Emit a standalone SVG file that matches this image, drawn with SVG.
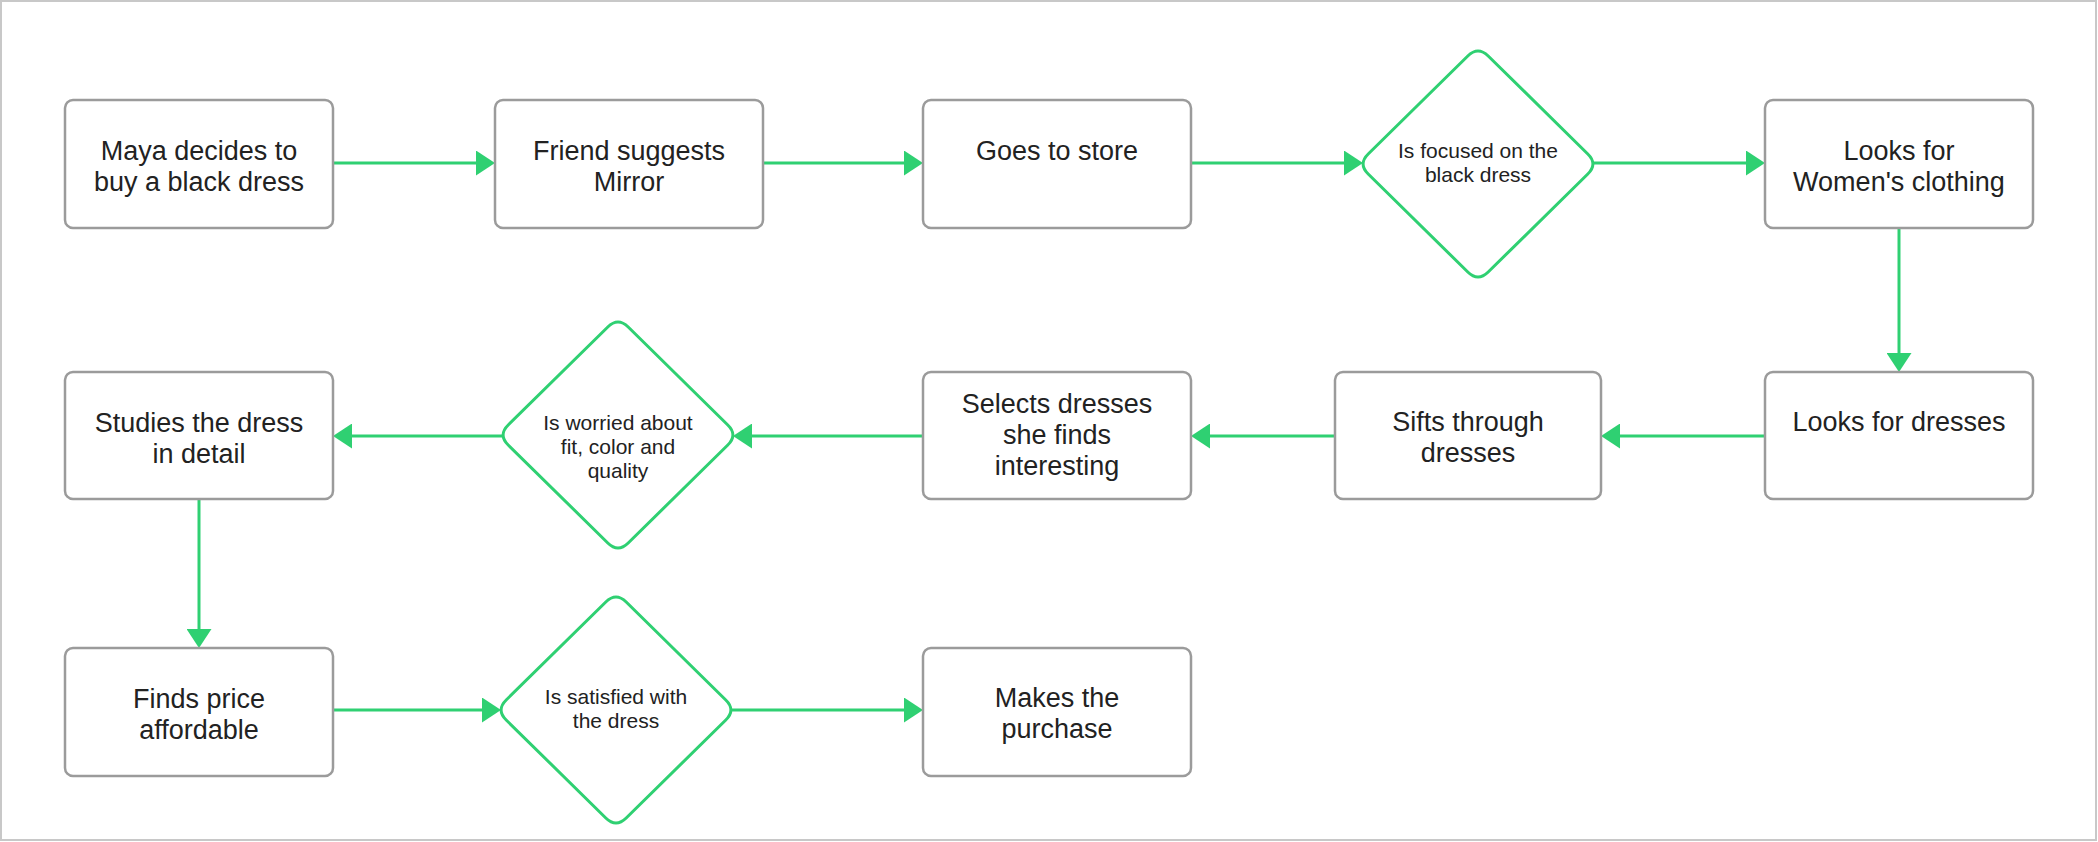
<svg xmlns="http://www.w3.org/2000/svg" xmlns:xlink="http://www.w3.org/1999/xlink" width="2098" height="842" viewBox="0 0 2098 842">
<style>
.box{fill:#ffffff;stroke:#9b9b9b;stroke-width:2.5}
.dia{fill:#ffffff;stroke:#2fd072;stroke-width:3}
.t{font-family:"Liberation Sans",Arial,Helvetica,sans-serif;font-size:27px;fill:#222222;text-anchor:middle}
.td{font-family:"Liberation Sans",Arial,Helvetica,sans-serif;font-size:21px;fill:#222222;text-anchor:middle}
.c{fill:none;stroke:#2fd072;stroke-width:3;marker-end:url(#arr)}
</style>
<defs>
<marker id="arr" markerUnits="userSpaceOnUse" markerWidth="19" markerHeight="25" refX="9" refY="12.5" orient="auto">
<path d="M0,0 L19,12.5 L0,25 Z" fill="#2fd072"/>
</marker>
<path id="diamond" d="M -10.2,-108 Q 0,-118 10.2,-108 L 109.8,-10 Q 120,0 109.8,10 L 10.2,108 Q 0,118 -10.2,108 L -109.8,10 Q -120,0 -109.8,-10 Z"/>
</defs>
<rect x="0" y="0" width="2098" height="842" fill="#ffffff"/>
<rect x="1" y="1" width="2095" height="839" fill="none" stroke="#c8c8c8" stroke-width="2"/>

<g id="connectors">
<line class="c" x1="333" y1="163" x2="485" y2="163"/>
<line class="c" x1="763" y1="163" x2="913" y2="163"/>
<line class="c" x1="1191" y1="163" x2="1353" y2="163"/>
<line class="c" x1="1593" y1="163" x2="1755" y2="163"/>
<line class="c" x1="1899" y1="228" x2="1899" y2="362"/>
<line class="c" x1="1765" y1="436" x2="1611" y2="436"/>
<line class="c" x1="1335" y1="436" x2="1201" y2="436"/>
<line class="c" x1="923" y1="436" x2="743" y2="436"/>
<line class="c" x1="503" y1="436" x2="343" y2="436"/>
<line class="c" x1="199" y1="499" x2="199" y2="638"/>
<line class="c" x1="333" y1="710" x2="491" y2="710"/>
<line class="c" x1="731" y1="710" x2="913" y2="710"/>
</g>

<g id="n1">
<rect class="box" x="65" y="100" width="268" height="128" rx="8"/>
<text class="t" x="199" y="160">Maya decides to</text>
<text class="t" x="199" y="191">buy a black dress</text>
</g>
<g id="n2">
<rect class="box" x="495" y="100" width="268" height="128" rx="8"/>
<text class="t" x="629" y="160">Friend suggests</text>
<text class="t" x="629" y="191">Mirror</text>
</g>
<g id="n3">
<rect class="box" x="923" y="100" width="268" height="128" rx="8"/>
<text class="t" x="1057" y="160">Goes to store</text>
</g>
<g id="n4">
<use xlink:href="#diamond" href="#diamond" class="dia" x="1478" y="164"/>
<text class="td" x="1478" y="158">Is focused on the</text>
<text class="td" x="1478" y="182">black dress</text>
</g>
<g id="n5">
<rect class="box" x="1765" y="100" width="268" height="128" rx="8"/>
<text class="t" x="1899" y="160">Looks for</text>
<text class="t" x="1899" y="191">Women's clothing</text>
</g>
<g id="n6">
<rect class="box" x="1765" y="372" width="268" height="127" rx="8"/>
<text class="t" x="1899" y="431">Looks for dresses</text>
</g>
<g id="n7">
<rect class="box" x="1335" y="372" width="266" height="127" rx="8"/>
<text class="t" x="1468" y="431">Sifts through</text>
<text class="t" x="1468" y="462">dresses</text>
</g>
<g id="n8">
<rect class="box" x="923" y="372" width="268" height="127" rx="8"/>
<text class="t" x="1057" y="413">Selects dresses</text>
<text class="t" x="1057" y="444">she finds</text>
<text class="t" x="1057" y="475">interesting</text>
</g>
<g id="n9">
<use xlink:href="#diamond" href="#diamond" class="dia" x="618" y="435"/>
<text class="td" x="618" y="430">Is worried about</text>
<text class="td" x="618" y="454">fit, color and</text>
<text class="td" x="618" y="478">quality</text>
</g>
<g id="n10">
<rect class="box" x="65" y="372" width="268" height="127" rx="8"/>
<text class="t" x="199" y="432">Studies the dress</text>
<text class="t" x="199" y="463">in detail</text>
</g>
<g id="n11">
<rect class="box" x="65" y="648" width="268" height="128" rx="8"/>
<text class="t" x="199" y="708">Finds price</text>
<text class="t" x="199" y="739">affordable</text>
</g>
<g id="n12">
<use xlink:href="#diamond" href="#diamond" class="dia" x="616" y="710"/>
<text class="td" x="616" y="704">Is satisfied with</text>
<text class="td" x="616" y="728">the dress</text>
</g>
<g id="n13">
<rect class="box" x="923" y="648" width="268" height="128" rx="8"/>
<text class="t" x="1057" y="707">Makes the</text>
<text class="t" x="1057" y="738">purchase</text>
</g>
</svg>
